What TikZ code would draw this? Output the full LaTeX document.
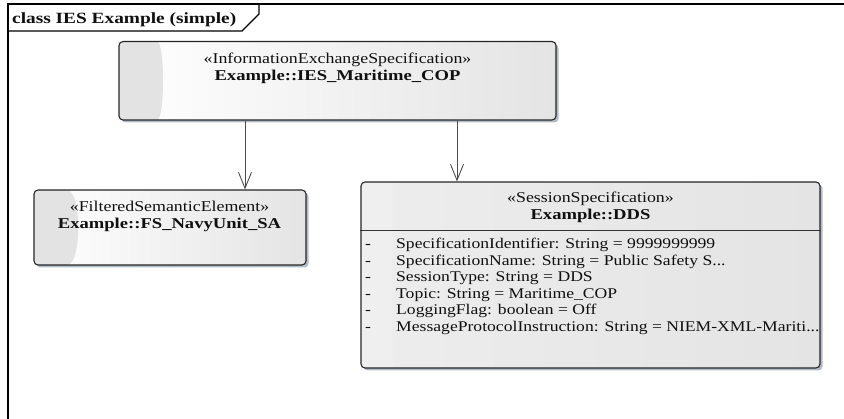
\documentclass[tikz,border=0pt]{standalone}
\usepackage{fontspec}
\setmainfont{Liberation Serif}[FakeStretch=1.19,BoldFeatures={FakeStretch=1.24}]
\usetikzlibrary{arrows.meta,shadows,calc}

\definecolor{shadowblue}{HTML}{B3BBC7}
\definecolor{lensgray}{HTML}{E3E3E3}
\definecolor{lenslight}{HTML}{EFEFEF}
\definecolor{boxgray}{HTML}{E4E4E4}
\definecolor{textdark}{HTML}{101010}
\newcommand\cutdots{...}

\begin{document}
\begin{tikzpicture}[x=1pt,y=-1pt,
  font=\fontsize{15}{17}\selectfont,
  every node/.style={inner sep=0pt, text=textdark},
  umlbox/.style={draw=black!85, line width=1.1pt, rounded corners=4pt,
    left color=white, right color=boxgray,
    drop shadow={shadow xshift=2.5pt, shadow yshift=-2.5pt, fill=shadowblue, opacity=1}},
  lens/.style n args={3}{path picture={
    \fill[#3] (path picture bounding box.north west)
      -- ([xshift=#1]path picture bounding box.north west)
      .. controls ([xshift=#2]path picture bounding box.north west)
             and ([xshift=#2]path picture bounding box.south west)
      .. ([xshift=#1]path picture bounding box.south west)
      -- (path picture bounding box.south west) -- cycle;}},
  stereo/.style={anchor=base},
  elname/.style={anchor=base, font=\fontsize{15}{17}\selectfont\bfseries},
  attr/.style={anchor=base west, font=\fontsize{14.8}{17}\selectfont},
  dep/.style={draw=black!70, line width=0.9pt, -{Straight Barb[length=16pt,width=13pt]}}
]
\useasboundingbox (0,0) rectangle (844,419);

% diagram frame and its name tab
\draw[line width=1.2pt] (8,425) -- (8,4) -- (850,4);
\draw[line width=1.2pt] (8,31) -- (242,31) -- (259,14) -- (259,4);
\node[anchor=base west, font=\fontsize{15.6}{17}\selectfont\bfseries] (title) at (12,24) {class IES Example (simple)};

% information exchange specification
\node[umlbox, lens={34pt}{46pt}{lensgray}, minimum width=437pt, minimum height=78.5pt] (ies) at (337.5,80.75) {};
\node[stereo] (iesst) at (337.5,64) {«InformationExchangeSpecification»};
\node[elname] (iesnm) at (337.5,81) {Example::IES\_Maritime\_COP};

% filtered semantic element
\node[umlbox, lens={29pt}{48pt}{lensgray}, minimum width=272pt, minimum height=75pt] (fs) at (170,227.5) {};
\node[stereo] (fsst) at (169.5,212) {«FilteredSemanticElement»};
\node[elname] (fsnm) at (169.5,229) {Example::FS\_NavyUnit\_SA};

% session specification with its attributes
\node[umlbox, left color=black!7, right color=boxgray, lens={36pt}{30pt}{lenslight},
  minimum width=459pt, minimum height=186pt] (dds) at (590.5,275) {};
\draw[black!80, line width=1pt] ([yshift=-49pt]dds.north west) -- ([yshift=-49pt]dds.north east);
\node[stereo] (ddsst) at (590.5,203) {«SessionSpecification»};
\node[elname] (ddsnm) at (590.5,220) {Example::DDS};
\foreach \t [count=\i] in {
  SpecificationIdentifier: String = 9999999999,
  SpecificationName: String = Public Safety S\cutdots,
  SessionType: String = DDS,
  Topic: String = Maritime\_COP,
  LoggingFlag: boolean = Off,
  MessageProtocolInstruction: String = NIEM-XML-Mariti\cutdots}
  \node[attr] (attr\i) at (365,{248.5+16.6*(\i-1)}) {\makebox[31pt][l]{-}\t};

% dependencies
\draw[dep] ([xshift=75pt]fs.north |- ies.south) -- ([xshift=75pt]fs.north);
\draw[dep] ([xshift=-133.5pt]dds.north |- ies.south) -- ([xshift=-133.5pt]dds.north);
\end{tikzpicture}
\end{document}
